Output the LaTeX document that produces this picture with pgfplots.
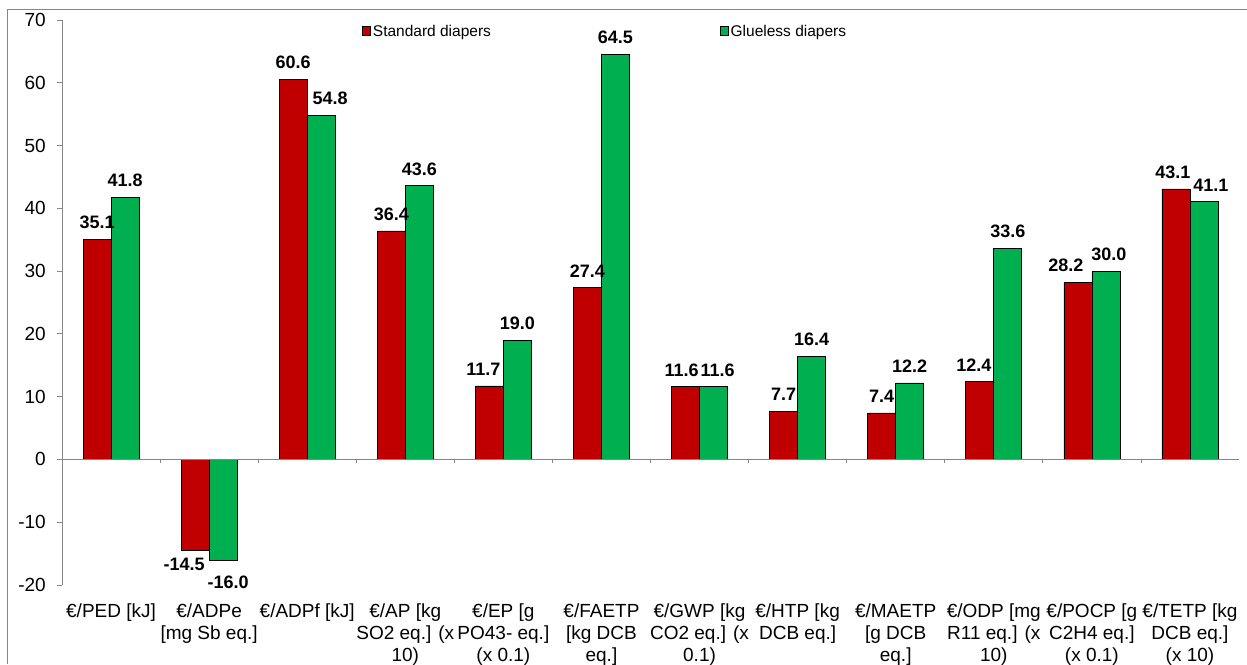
\documentclass[border=0pt]{standalone}
\usepackage{pgfplots}
\pgfplotsset{compat=1.18}
\usepackage{fontspec}
\setmainfont{Liberation Sans}
\definecolor{stdred}{HTML}{C00000}
\definecolor{glugreen}{HTML}{00B050}
\definecolor{axisgray}{HTML}{868686}
\pgfplotsset{
  square legend/.style={
    legend image code/.code={\draw[##1] (0pt,-4.5pt) rectangle (8pt,4.5pt);}},
}

\begin{document}
\begin{tikzpicture}
\begin{axis}[
  scale only axis,
  width=1177pt, height=565pt,
  ymin=-20, ymax=70,
  xmin=-0.5, xmax=11.5,
  ytick={-20,-10,...,70},
  xtick={0,...,11},
  xticklabels={
    {€/PED [kJ]},
    {€/ADPe\\{}[mg Sb eq.]},
    {€/ADPf [kJ]},
    {€/AP [kg\\SO2 eq.] (x\\10)},
    {€/EP [g\\PO43- eq.]\\(x 0.1)},
    {€/FAETP\\{}[kg DCB\\eq.]},
    {€/GWP [kg\\CO2 eq.] (x\\0.1)},
    {€/HTP [kg\\DCB eq.]},
    {€/MAETP\\{}[g DCB\\eq.]},
    {€/ODP [mg\\R11 eq.] (x\\10)},
    {€/POCP [g\\C2H4 eq.]\\(x 0.1)},
    {€/TETP [kg\\DCB eq.]\\(x 10)}},
  axis y line*=left,
  axis x line*=bottom,
  x axis line style={draw=none},
  y axis line style={axisgray, line width=0.8pt},
  every y tick/.append style={axisgray, line width=0.8pt},
  every x tick/.append style={draw=none},
  tick align=outside,
  major tick length=5pt,
  /pgf/number format/assume math mode=true,
  ticklabel style={font=\fontsize{19}{22}\selectfont, text=black},
  yticklabel style={inner sep=0pt, xshift=-11pt},
  xticklabel style={align=center, anchor=north, inner sep=0pt, yshift=-14pt},
  ybar=0pt,
  bar width=28pt,
  legend style={at={(0.2549,0.98)}, anchor=west, draw=none, fill=none,
    inner sep=0pt, legend columns=2,
    font=\fontsize{15.5}{18}\selectfont,
    /tikz/every even column/.append style={column sep=227pt}},
  visualization depends on={value \thisrow{dx} \as \dx},
  visualization depends on={value \thisrow{dy} \as \dy},
  nodes near coords={\pgfmathprintnumber[fixed,fixed zerofill,precision=1]{\pgfplotspointmeta}},
  every node near coord/.append style={font=\bfseries\fontsize{18}{20}\selectfont,
    text=black, inner xsep=0pt, inner ysep=10pt, xshift=\dx pt, yshift=\dy pt},
]
% Standard diapers
\addplot[fill=stdred, draw=black, line width=0.7pt, square legend]
  table {
x  y     dx   dy
0  35.1  0    0
1  -14.5 -11  3
2  60.6  0    0
3  36.4  0    0
4  11.7  -6   0
5  27.4  0    0
6  11.6  -4   0
7  7.7   0    0
8  7.4   0    0
9  12.4  -6   0
10 28.2  -12  0
11 43.1  -3   0
};
\addlegendentry{Standard diapers}
% Glueless diapers
\addplot[fill=glugreen, draw=black, line width=0.7pt, square legend]
  table {
x  y     dx   dy
0  41.8  0    0
1  -16.0 5    -6
2  54.8  9    0
3  43.6  0    0
4  19.0  0    0
5  64.5  0    0
6  11.6  4    0
7  16.4  0    0
8  12.2  0    0
9  33.6  0    0
10 30.0  3    0
11 41.1  7    0
};
\addlegendentry{Glueless diapers}
% zero line with category separators
\draw[axisgray, line width=0.8pt] (axis cs:-0.5,0) -- (axis cs:11.5,0);
\pgfplotsinvokeforeach{0.5,1.5,...,11.5}{
  \draw[axisgray, line width=0.8pt] (axis cs:#1,0) -- (axis cs:#1,-0.6);
}
\end{axis}
\pgfresetboundingbox
\useasboundingbox (-62pt,-79pt) rectangle (1185pt,585pt);
\draw[axisgray, line width=0.8pt] (-55pt,-79pt) -- (-55pt,576pt) -- (1185pt,576pt);
\end{tikzpicture}
\end{document}
